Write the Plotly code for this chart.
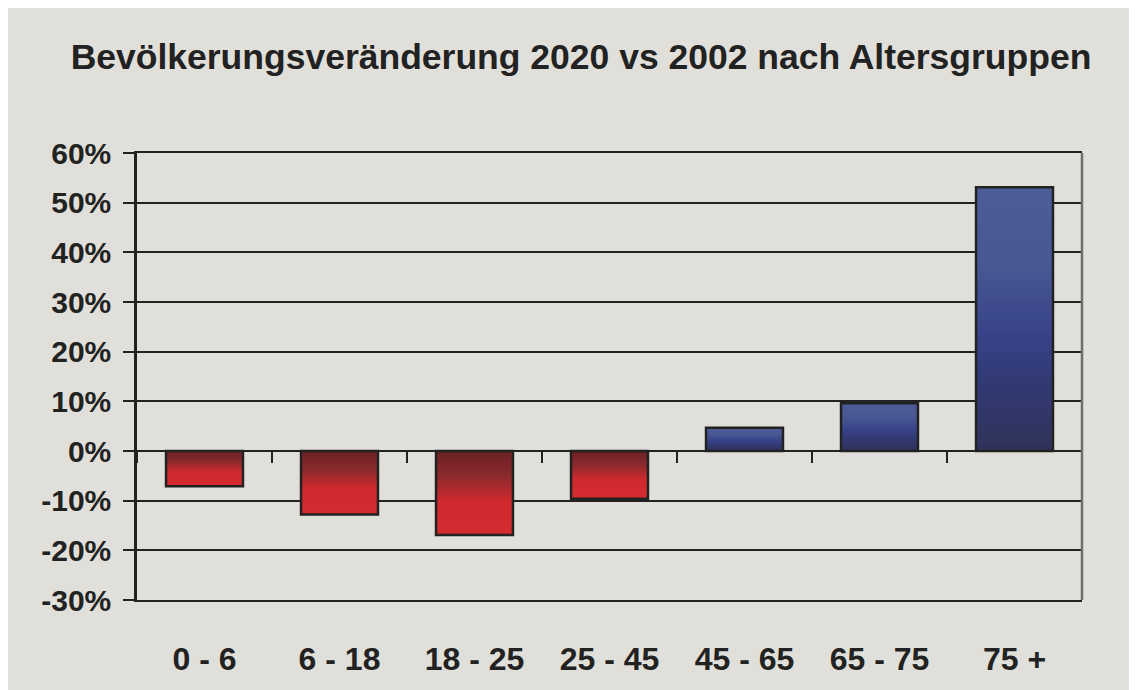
import plotly.graph_objects as go

categories = ["0 - 6", "6 - 18", "18 - 25", "25 - 45", "45 - 65", "65 - 75", "75 +"]
values = [-7.1, -12.8, -16.9, -9.6, 4.7, 9.6, 53.1]
y_ticks = [-30, -20, -10, 0, 10, 20, 30, 40, 50, 60]
y_tick_labels = ["-30%", "-20%", "-10%", "0%", "10%", "20%", "30%", "40%", "50%", "60%"]
title_text = "Bevölkerungsveränderung 2020 vs 2002 nach Altersgruppen"

FONT = "Liberation Sans, Arial, sans-serif"
BG = "#e1dfd9"
DARK = "#222222"
BAR_W = 0.57
N = 40

red_stops = [(0.0, "#6a2125"), (0.3, "#8c2a2d"), (0.6, "#d02a2e"), (1.0, "#d42b2f")]
blue_stops = [(0.0, "#2f335a"), (0.3, "#333b78"), (0.45, "#38438a"), (0.7, "#495793"), (1.0, "#4d5d98")]


def hex2rgb(h):
    h = h.lstrip("#")
    return tuple(int(h[i:i + 2], 16) for i in (0, 2, 4))


def interp(stops, t):
    for (t0, c0), (t1, c1) in zip(stops[:-1], stops[1:]):
        if t <= t1:
            f = 0 if t1 == t0 else (t - t0) / (t1 - t0)
            a, b = hex2rgb(c0), hex2rgb(c1)
            return "rgb(%d,%d,%d)" % tuple(round(a[k] + (b[k] - a[k]) * f) for k in range(3))
    return stops[-1][1]


fig = go.Figure()

# gradient: overlapping layers, each running from its start to the bar end
for i in range(N):
    t = (i + 0.5) / N
    cols = [interp(red_stops, t) if v < 0 else interp(blue_stops, t) for v in values]
    fig.add_trace(go.Bar(
        x=categories,
        y=[v * (N - i) / N for v in values],
        base=[v * i / N for v in values],
        width=BAR_W,
        marker=dict(color=cols, line=dict(width=0)),
        showlegend=False,
        hoverinfo="skip",
    ))

# outline
fig.add_trace(go.Bar(
    x=categories,
    y=values,
    width=BAR_W,
    xaxis="x2",
    marker=dict(color="rgba(0,0,0,0)", line=dict(color=DARK, width=2.5)),
    showlegend=False,
))

fig.update_layout(
    width=1137,
    height=690,
    margin=dict(l=129, r=63, t=145, b=98),
    paper_bgcolor=BG,
    plot_bgcolor="rgba(0,0,0,0)",
    barmode="overlay",
    font=dict(family=FONT, color=DARK),
    title=dict(
        text=title_text,
        font=dict(family=FONT, size=35.5, weight=700, color=DARK),
        x=573 / 1137, xref="container", xanchor="center",
        y=1 - 49 / 690, yref="container", yanchor="middle",
    ),
    xaxis=dict(
        type="category",
        categoryarray=categories,
        range=[-0.5, len(categories) - 0.5],
        showgrid=False,
        showline=True,
        mirror=True,
        linecolor=DARK,
        linewidth=2,
        zeroline=False,
        ticks="",
        ticklabelstandoff=30,
        tickfont=dict(family=FONT, size=32, weight=700, color=DARK),
    ),
    xaxis2=dict(
        type="category",
        categoryarray=categories,
        overlaying="x",
        anchor="free",
        position=(0 - y_ticks[0]) / (y_ticks[-1] - y_ticks[0]),
        range=[-0.5, len(categories) - 0.5],
        showgrid=False,
        showline=False,
        zeroline=False,
        showticklabels=False,
        ticks="outside",
        tickson="boundaries",
        ticklen=11,
        tickwidth=2,
        tickcolor=DARK,
    ),
    yaxis=dict(
        range=[y_ticks[0], y_ticks[-1]],
        tickmode="array",
        tickvals=y_ticks,
        ticktext=y_tick_labels,
        showgrid=True,
        gridcolor=DARK,
        gridwidth=2,
        zeroline=True,
        zerolinecolor=DARK,
        zerolinewidth=2,
        showline=True,
        linecolor=DARK,
        linewidth=2.5,
        ticks="outside",
        ticklen=11,
        tickwidth=2,
        tickcolor=DARK,
        ticklabelstandoff=6,
        tickfont=dict(family=FONT, size=30, weight=700, color=DARK),
    ),
    shapes=[
        dict(type="line", xref="paper", yref="paper", x0=1, x1=1, y0=0, y1=1,
             line=dict(color="#6e6e6e", width=2.5)),
    ],
)

fig.write_html("out.html")
